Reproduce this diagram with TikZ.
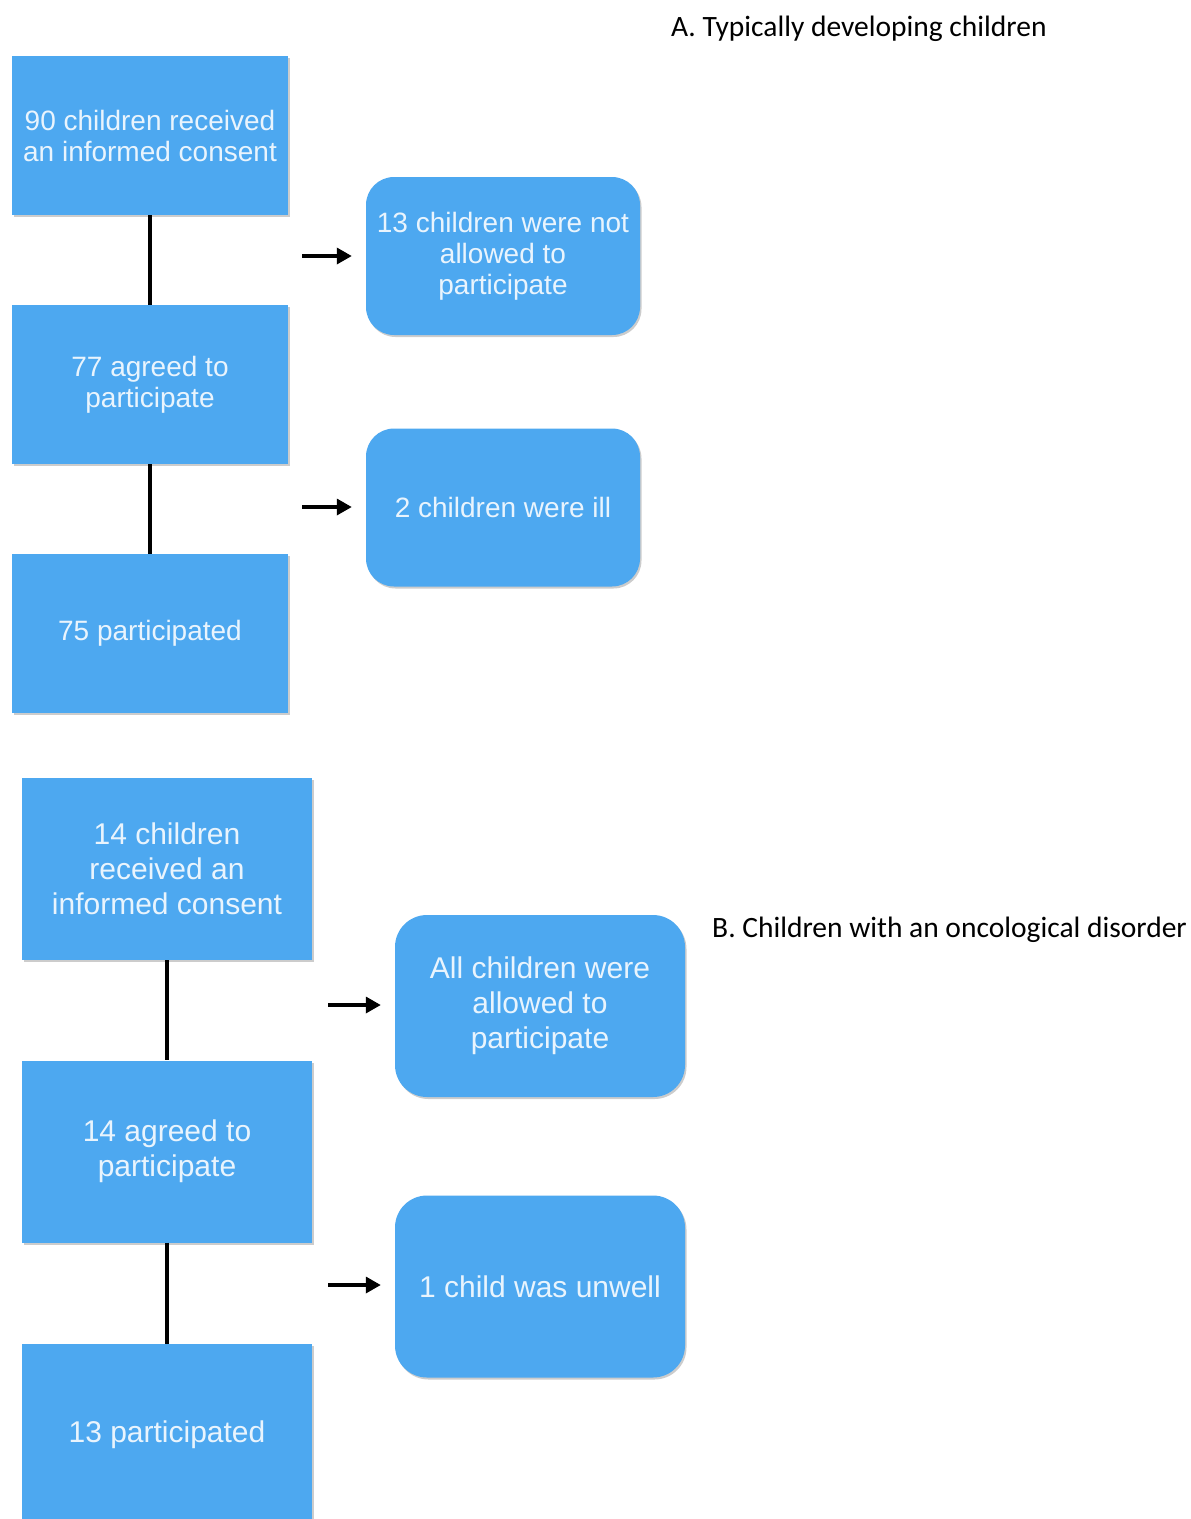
\documentclass[tikz,border=0pt]{standalone}
\usepackage{fontspec}
\newfontfamily\boxfont{Liberation Sans}
\newfontfamily\labfont{Carlito}
\usetikzlibrary{arrows.meta,shadows}
\definecolor{boxblue}{HTML}{4DA8F0}
\tikzset{
  sq/.style={fill=boxblue, draw=none, inner sep=0pt, align=center,
    text=white, text opacity=0.88,
    drop shadow={shadow xshift=1.5pt, shadow yshift=-2pt, opacity=0.2, fill=black}},
  topbox/.style={sq, minimum width=276pt, minimum height=159pt,
    font=\boxfont\fontsize{28}{31}\selectfont},
  topround/.style={topbox, minimum width=274pt, minimum height=158pt, rounded corners=28pt},
  botbox/.style={sq, minimum width=290pt, minimum height=182pt,
    font=\boxfont\fontsize{30}{35}\selectfont},
  botround/.style={botbox, rounded corners=32pt},
  link/.style={line width=3.4pt, black},
  flow/.style={line width=3.4pt, black, -{Triangle[length=15pt,width=16pt]}},
  lab/.style={font=\labfont\fontsize{29.5}{33}\selectfont, anchor=west, inner sep=0pt}
}
\begin{document}
\begin{tikzpicture}[x=1pt,y=-1pt]
\useasboundingbox[fill=white] (0,0) rectangle (1191,1519);
% Part A
\node[lab] (labA) at (671,29) {A. Typically developing children};
\node[topbox] (a1) at (150,135.5) {90 children received\\an informed consent};
\node[topbox] (a2) at (150,384.5) {77 agreed to\\participate};
\node[topbox] (a3) at (150,633.5) {75 participated};
\node[topround] (r1) at (503,256) {13 children were not\\allowed to\\participate};
\node[topround] (r2) at (503,507.5) {2 children were ill};
\draw[link] (a1) -- (a2);
\draw[link] (a2) -- (a3);
\coordinate (s1) at (302,256);
\coordinate (s2) at (302,507);
\draw[flow] (s1) -- ([xshift=-14pt]r1.west |- s1);
\draw[flow] (s2) -- ([xshift=-14pt]r2.west |- s2);
% Part B
\node[lab] (labB) at (712,930) {B. Children with an oncological disorder};
\node[botbox] (b1) at (167,869) {14 children\\received an\\informed consent};
\node[botbox] (b2) at (167,1151.5) {14 agreed to\\participate};
\node[botbox] (b3) at (167,1435) {13 participated};
\node[botround] (r3) at (540,1006) {All children were\\allowed to\\participate};
\node[botround] (r4) at (540,1286.5) {1 child was unwell};
\draw[link] (b1) -- (b2);
\draw[link] (b2) -- (b3);
\coordinate (s3) at (328,1005);
\coordinate (s4) at (328,1285);
\draw[flow] (s3) -- ([xshift=-14pt]r3.west |- s3);
\draw[flow] (s4) -- ([xshift=-14pt]r4.west |- s4);
\end{tikzpicture}
\end{document}
